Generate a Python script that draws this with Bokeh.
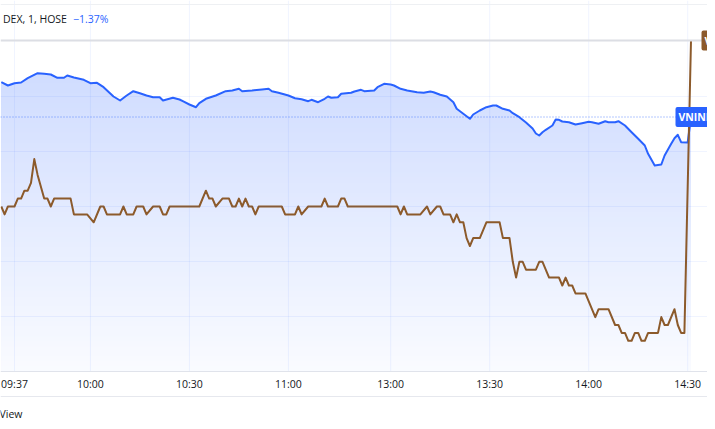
import numpy as np
from bokeh.plotting import figure
from bokeh.models import Range1d, LinearAxis, Grid, FixedTicker, Label, Span
from bokeh.embed import file_html
from bokeh.resources import INLINE

# ---------------- data ----------------
# x = 1-minute bar index counted from 09:37 (lunch break 11:30-13:00 removed)
tick_index = [0, 23, 53, 83, 114, 144, 174, 204]
tick_labels = ["09:37", "10:00", "10:30", "11:00", "13:00", "13:30", "14:00", "14:30"]

vn_idx = [-4, -2, 0, 2, 4, 7, 9, 11, 13, 15, 16, 18, 21, 23, 25, 27, 30, 32, 34, 36,
          38, 40, 42, 44, 45, 48, 50, 51, 53, 55, 56, 58, 61, 64, 66, 68, 69, 72, 75, 77,
          78, 80, 83, 85, 87, 89, 90, 92, 94, 95, 96, 98, 99, 102, 103, 105, 106, 109, 110, 112,
          114, 115, 117, 119, 122, 124, 126, 127, 129, 131, 133, 134, 136, 138, 139, 141, 143, 145, 146, 148,
          150, 151, 153, 155, 157, 158, 159, 160, 161, 163, 164, 165, 166, 168, 170, 172, 174, 175, 177, 179,
          180, 182, 183, 185, 187, 189, 191, 192, 194, 196, 197, 199, 200, 201, 202, 204, 205]
vn_val = [1235.93, 1235.60, 1235.83, 1235.90, 1236.33, 1236.83, 1236.77, 1236.70, 1236.37, 1236.37,
          1236.60, 1236.40, 1236.17, 1235.83, 1235.87, 1235.43, 1234.50, 1234.10, 1234.60, 1235.03,
          1234.83, 1234.60, 1234.43, 1234.43, 1234.10, 1234.37, 1234.20, 1234.03, 1233.70, 1233.43,
          1233.83, 1234.27, 1234.60, 1235.03, 1235.10, 1235.27, 1235.03, 1235.10, 1235.20, 1235.27,
          1235.03, 1234.87, 1234.60, 1234.33, 1234.23, 1234.03, 1234.17, 1233.93, 1234.27, 1234.50,
          1234.37, 1234.43, 1234.77, 1234.87, 1235.00, 1235.17, 1235.03, 1235.10, 1235.43, 1235.77,
          1235.70, 1235.60, 1235.27, 1235.10, 1234.93, 1234.87, 1235.00, 1234.93, 1234.67, 1234.50,
          1233.93, 1233.27, 1232.77, 1232.27, 1232.70, 1233.10, 1233.43, 1233.60, 1233.60, 1233.27,
          1233.10, 1232.83, 1232.43, 1231.90, 1231.30, 1230.80, 1230.60, 1230.93, 1231.17, 1231.60,
          1232.20, 1232.17, 1232.00, 1231.93, 1231.70, 1231.83, 1231.97, 1231.93, 1231.77, 1232.03,
          1231.93, 1231.93, 1232.03, 1231.60, 1230.93, 1230.27, 1229.60, 1228.77, 1227.60, 1227.70,
          1228.60, 1229.77, 1230.33, 1230.67, 1229.93, 1229.90, 1232.45]

vic_idx = [-4, -3, -2, 0, 1, 2, 3, 4, 5, 6, 7, 9, 10, 11, 12, 17, 18, 22, 24, 26,
           27, 28, 32, 33, 34, 36, 37, 39, 40, 42, 44, 45, 46, 47, 56, 58, 59, 60, 61, 63,
           65, 66, 67, 68, 69, 70, 71, 72, 73, 74, 81, 82, 85, 86, 87, 89, 93, 94, 95, 98,
           99, 100, 101, 116, 117, 118, 119, 123, 125, 126, 128, 129, 130, 132, 133, 134, 135, 136, 137, 138,
           139, 141, 143, 147, 148, 150, 151, 152, 153, 154, 155, 158, 159, 160, 162, 165, 166, 167, 168, 169,
           170, 173, 176, 177, 180, 182, 183, 184, 185, 186, 187, 188, 189, 190, 191, 192, 195, 196, 197, 198,
           200, 201, 202, 203, 205]
vic_val = [42.00, 41.95, 42.00, 42.00, 42.05, 42.05, 42.10, 42.10, 42.15, 42.30, 42.20, 42.05, 42.05, 42.00, 42.05, 42.05, 41.95, 41.95, 41.90, 42.00,
           42.00, 41.95, 41.95, 42.00, 41.95, 41.95, 42.00, 42.00, 41.95, 42.00, 42.00, 41.95, 41.95, 42.00, 42.00, 42.10, 42.05, 42.05, 42.00, 42.05,
           42.05, 42.00, 42.00, 42.05, 42.00, 42.05, 42.00, 42.00, 41.95, 42.00, 42.00, 41.95, 41.95, 42.00, 41.95, 42.00, 42.00, 42.05, 42.00, 42.00,
           42.05, 42.05, 42.00, 42.00, 41.95, 42.00, 41.95, 41.95, 42.00, 41.95, 42.00, 42.00, 41.95, 41.95, 41.90, 41.95, 41.90, 41.90, 41.80, 41.75,
           41.80, 41.80, 41.90, 41.90, 41.80, 41.80, 41.65, 41.55, 41.65, 41.65, 41.60, 41.60, 41.65, 41.65, 41.55, 41.55, 41.50, 41.55, 41.50, 41.50,
           41.45, 41.45, 41.30, 41.35, 41.35, 41.25, 41.25, 41.20, 41.20, 41.15, 41.15, 41.20, 41.20, 41.15, 41.15, 41.20, 41.20, 41.30, 41.25, 41.25,
           41.35, 41.25, 41.20, 41.20, 43.05]

symbol_text = "DEX, 1, HOSE"
change_text = "\u22121.37%"
vn_name = "VNINDEX"
vic_name = "VIC"
footer_text = "View"

# ---------------- layout helpers (canvas pixels -> data) ----------------
BLUE = "#2962ff"
BLUE_RGB = np.array([41, 98, 255])
BROWN = "#8c5a2b"
TEXT = "#131722"
FONT = "Open Sans"
FS = "10.5px"
W, H = 707, 421


def xd(px):
    return (px - 14) / 3.3


def yd(py):
    return 1240.0 - (py - 41) * 0.1


VIC_PX = 0.05 / 7.9


def yv(py):
    return 42.0 - (py - 206) * VIC_PX


def tint(alpha):
    r, g, b = (255 - alpha * (255 - BLUE_RGB)).round().astype(int)
    return "#%02x%02x%02x" % (r, g, b)


p = figure(width=W, height=H,
           x_range=Range1d(xd(0), xd(W)), y_range=Range1d(yd(H), yd(0)),
           x_axis_type=None, y_axis_type=None,
           toolbar_location=None, output_backend="svg",
           min_border_left=0, min_border_right=0, min_border_top=0, min_border_bottom=0)
p.extra_y_ranges = {"vic": Range1d(yv(H), yv(0))}
p.outline_line_color = None
p.background_fill_color = "white"
p.border_fill_color = "white"

pane_bottom = yd(370.5)

# time axis, drawn inside the canvas at the bottom of the price pane
xaxis = LinearAxis(ticker=FixedTicker(ticks=tick_index),
                   major_label_overrides={t: l for t, l in zip(tick_index, tick_labels)},
                   fixed_location=pane_bottom)
xaxis.axis_line_color = "#e0e3eb"
xaxis.major_tick_line_color = None
xaxis.minor_tick_line_color = None
xaxis.major_tick_out = 0
xaxis.major_tick_in = 0
xaxis.major_label_standoff = 6
xaxis.major_label_text_font = FONT
xaxis.major_label_text_font_size = FS
xaxis.major_label_text_color = TEXT
p.add_layout(xaxis, "below")

# gradient area under VNINDEX (opaque steps, top colour drawn first)
vx = np.array(vn_idx, dtype=float)
vy = np.array(vn_val, dtype=float)
n_bands = 60
levels = np.linspace(pane_bottom, vy.max(), n_bands + 1)
a_top, a_bot = 0.22, 0.025
for k in range(n_bands - 1, -1, -1):
    frac = (k + 0.5) / n_bands
    p.varea(x=vx, y1=pane_bottom, y2=np.minimum(vy, levels[k + 1]),
            fill_color=tint(a_bot + (a_top - a_bot) * frac))

# faint grid on top of the fill
p.segment(x0=tick_index, y0=pane_bottom, x1=tick_index, y1=yd(0),
          line_color=BLUE, line_alpha=0.07, line_width=1)
p.add_layout(Grid(dimension=1, ticker=FixedTicker(ticks=list(np.arange(1234.5, 1208, -5.5))),
                  grid_line_color=BLUE, grid_line_alpha=0.07, level="glyph"))

p.line(vx, vy, line_color=BLUE, line_width=2, line_join="round")
p.line(vic_idx, vic_val, y_range_name="vic", line_color=BROWN, line_width=2, line_join="round")

# last-price dotted line, pane borders
p.add_layout(Span(location=vn_val[-1], dimension="width", line_color=BLUE, line_alpha=0.7,
                  line_width=1, line_dash="1 2"))
p.add_layout(Span(location=yd(4), dimension="width", line_color="#eef0f3", line_width=1))
p.add_layout(Span(location=yd(40), dimension="width", line_color="#dcdee4", line_width=2))
p.add_layout(Span(location=yd(396), dimension="width", line_color="#e6e8ee", line_width=1))

# price labels on the right edge
p.add_layout(Label(x=xd(675), y=vn_val[-1], text=vn_name, text_color="white", text_font=FONT,
                   text_font_size=FS, text_font_style="bold", text_baseline="middle",
                   background_fill_color=BLUE, padding=3, border_radius=2))
p.add_layout(Label(x=xd(701), y=vic_val[-1], y_range_name="vic", text=vic_name, text_color="white",
                   text_font=FONT, text_font_size=FS, text_font_style="bold", text_baseline="middle",
                   background_fill_color=BROWN, padding=3, border_radius=2))

# legend header
p.add_layout(Label(x=xd(2.5), y=yd(18.3), text=symbol_text, text_color=TEXT, text_font=FONT,
                   text_font_size=FS, text_baseline="middle"))
p.add_layout(Label(x=xd(72.5), y=yd(18.3), text=change_text, text_color=BLUE, text_font=FONT,
                   text_font_size=FS, text_baseline="middle"))

# footer
p.add_layout(Label(x=xd(-1), y=yd(413.3), text=footer_text, text_color=TEXT, text_font=FONT,
                   text_font_size=FS, text_baseline="middle"))

open("out.html", "w").write(file_html(p, INLINE))
